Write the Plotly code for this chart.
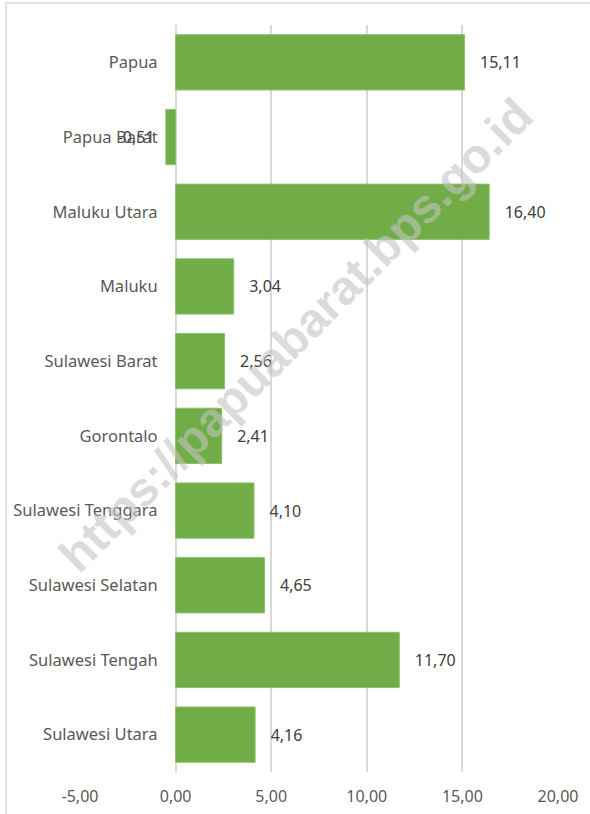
import plotly.graph_objects as go

provinces = ["Papua", "Papua Barat", "Maluku Utara", "Maluku", "Sulawesi Barat",
             "Gorontalo", "Sulawesi Tenggara", "Sulawesi Selatan", "Sulawesi Tengah",
             "Sulawesi Utara"]
values = [15.11, -0.51, 16.40, 3.04, 2.56, 2.41, 4.10, 4.65, 11.70, 4.16]
x_ticks = [-5, 0, 5, 10, 15, 20]
x_tick_labels = ["-5,00", "0,00", "5,00", "10,00", "15,00", "20,00"]

NB = "\u00a0"
labels = []
for v in values:
    s = f"{v:.2f}".replace(".", ",")
    labels.append((NB * 3 + s) if v >= 0 else (s + NB * 2))

FONT = "Noto Sans"
fig = go.Figure(go.Bar(
    y=provinces, x=values, orientation="h",
    marker=dict(color="#70AD47", line=dict(color="#8cc06a", width=1)),
    text=labels, textposition="outside", cliponaxis=False,
    textfont=dict(family=FONT, size=16, color="#404040"),
    width=0.74,
))

fig.update_layout(
    width=590, height=814,
    margin=dict(l=80, r=32, t=25, b=42, autoexpand=False),
    plot_bgcolor="white", paper_bgcolor="white",
    showlegend=False,
    font=dict(family=FONT, size=16, color="#595959"),
    xaxis=dict(range=[-5, 20], tickvals=x_ticks, ticktext=x_tick_labels,
               showgrid=True, gridcolor="#d9d9d9", gridwidth=1.5,
               zeroline=True, zerolinecolor="#d9d9d9", zerolinewidth=1.5,
               showline=False, ticks="", ticklabelstandoff=13, automargin=False,
               tickfont=dict(size=16, color="#595959"), domain=[0, 1]),
    yaxis=dict(categoryorder="array", categoryarray=provinces[::-1],
               anchor="free", position=0.2, showgrid=False, zeroline=False,
               showline=False, ticks="", ticklabelstandoff=18, automargin=False,
               tickfont=dict(size=16.5, color="#595959")),
    shapes=[
        dict(type="line", xref="paper", yref="paper",
             x0=(6 - 80) / 478, x1=(595 - 80) / 478, y0=(772 - 3) / 747, y1=(772 - 3) / 747,
             line=dict(color="#d9d9d9", width=1.5)),
        dict(type="line", xref="paper", yref="paper",
             x0=(6 - 80) / 478, x1=(6 - 80) / 478, y0=(772 - 820) / 747, y1=(772 - 3) / 747,
             line=dict(color="#d9d9d9", width=1.5)),
    ],
    annotations=[dict(
        text="<b>https://papuabarat.bps.go.id</b>", xref="paper", yref="paper",
        x=(295 - 80) / 478, y=(772 - 335) / 747, showarrow=False, textangle=-45,
        font=dict(family="Liberation Sans", size=48, color="rgba(195,195,195,0.6)"),
    )],
)

fig.write_html("out.html", config={"displayModeBar": False},
               post_script="document.body.style.margin='0';document.body.style.overflow='hidden';")
